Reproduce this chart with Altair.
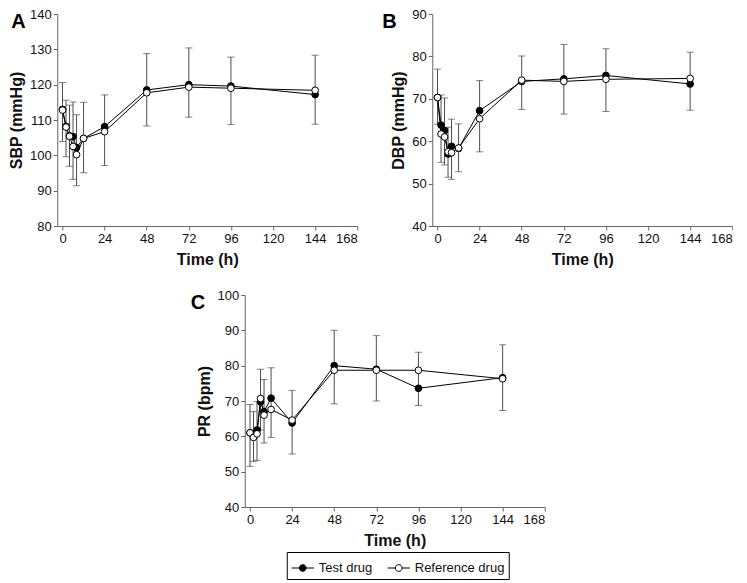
import altair as alt
import pandas as pd

times = [0, 2, 4, 6, 8, 12, 24, 48, 72, 96, 144]
series_names = ["Test drug", "Reference drug"]

# Panel A: SBP (mmHg)
sbp_test = [113.0, 108.2, 105.5, 105.3, 102.2, 104.8, 108.1, 118.5, 120.0, 119.6, 117.2]
sbp_ref = [112.8, 108.0, 105.4, 102.5, 100.2, 104.8, 106.7, 117.7, 119.3, 119.0, 118.4]
sbp_hi = [120.6, 115.6, 114.2, 115.1, 111.5, 115.0, 117.1, 128.8, 130.4, 127.8, 128.3]
sbp_lo = [103.9, 99.6, 96.9, 93.2, 91.4, 95.1, 97.1, 108.3, 110.8, 108.7, 108.8]

# Panel B: DBP (mmHg)
dbp_test = [70.3, 63.8, 62.5, 57.0, 58.8, 58.3, 67.2, 74.1, 74.7, 75.5, 73.5]
dbp_ref = [70.3, 61.7, 61.0, 57.5, 57.3, 58.4, 65.3, 74.4, 74.1, 74.6, 74.8]
dbp_hi = [77.0, 70.9, 70.2, 63.3, 65.2, 64.1, 74.3, 80.1, 82.8, 81.8, 81.0]
dbp_lo = [64.0, 55.0, 54.4, 51.5, 51.0, 52.8, 57.5, 67.5, 66.4, 67.0, 67.3]

# Panel C: PR (bpm)
pr_test = [61.0, 60.5, 61.8, 69.8, 67.0, 70.8, 63.8, 80.0, 79.0, 73.6, 76.6]
pr_ref = [61.0, 59.7, 60.7, 70.7, 66.0, 67.6, 64.6, 78.7, 78.7, 78.7, 76.3]
pr_hi = [69.0, 67.0, 69.8, 79.0, 76.1, 79.4, 73.0, 90.0, 88.5, 83.8, 85.9]
pr_lo = [51.5, 52.9, 53.2, 61.8, 58.1, 59.7, 55.0, 69.2, 70.0, 68.7, 67.3]

x_ticks = [0, 24, 48, 72, 96, 120, 144, 168]

W = 300
H = 212
FONT = "Liberation Sans"

LEG_SYMBOL = "M-1,0L-0.3,0M0.3,0L1,0M0.3,0A0.3,0.3,0,1,1,-0.3,0A0.3,0.3,0,1,1,0.3,0Z"


def panel(letter, ytitle, test, ref, hi, lo, ydom, yticks, letter_dx, show_legend):
    rows = []
    for s, vals in zip(series_names, [test, ref]):
        for t, v in zip(times, vals):
            rows.append({"time": t, "value": v, "series": s})
    df = pd.DataFrame(rows)
    err = pd.DataFrame({"time": times, "hi": hi, "lo": lo})

    xscale = alt.Scale(domain=[-3, 168], nice=False, zero=False)
    xaxis = alt.Axis(values=x_ticks, title="Time (h)", labelOverlap=False)
    yscale = alt.Scale(domain=ydom, nice=False, zero=False)
    yaxis = alt.Axis(values=yticks, title=ytitle, labelOverlap=False)

    def X():
        return alt.X("time:Q", scale=xscale, axis=xaxis)

    def Y(field):
        return alt.Y(field, scale=yscale, axis=yaxis)

    base_err = alt.Chart(err)
    rule = base_err.mark_rule(color="#4d4d4d", strokeWidth=1).encode(
        x=X(), y=Y("lo:Q"), y2="hi:Q"
    )
    cap_hi = base_err.mark_tick(orient="horizontal", size=7, thickness=1, color="#4d4d4d").encode(
        x=X(), y=Y("hi:Q")
    )
    cap_lo = base_err.mark_tick(orient="horizontal", size=7, thickness=1, color="#4d4d4d").encode(
        x=X(), y=Y("lo:Q")
    )

    base = alt.Chart(df)
    lines = base.mark_line(color="black", strokeWidth=1).encode(
        x=X(), y=Y("value:Q"), detail="series:N"
    )
    if show_legend:
        legend = alt.Legend(
            title=None,
            orient="none",
            legendX=42,
            legendY=H + 45,
            direction="horizontal",
            symbolType=LEG_SYMBOL,
            symbolSize=500,
            symbolStrokeColor="black",
            symbolStrokeWidth=1,
            labelFontSize=13,
            labelFont=FONT,
            labelColor="#111111",
            strokeColor="black",
            padding=4,
            columnPadding=12,
            labelOffset=4,
        )
    else:
        legend = None
    points = base.mark_point(
        shape="circle", filled=True, stroke="black", strokeWidth=1, size=45, opacity=1
    ).encode(
        x=X(),
        y=Y("value:Q"),
        fill=alt.Fill(
            "series:N",
            scale=alt.Scale(domain=series_names, range=["black", "white"]),
            legend=legend,
        ),
        order=alt.Order("ord:Q"),
    ).transform_calculate(ord="datum.series == 'Test drug' ? 0 : 1")

    lab = alt.Chart(pd.DataFrame({"t": [letter]})).mark_text(
        align="left", baseline="top", fontSize=20, fontWeight="bold", font=FONT, color="black"
    ).encode(text="t:N", x=alt.value(letter_dx), y=alt.value(-2))

    return alt.layer(rule, cap_hi, cap_lo, lines, points, lab).properties(width=W, height=H)


A = panel("A", "SBP (mmHg)", sbp_test, sbp_ref, sbp_hi, sbp_lo, [80, 140],
          [80, 90, 100, 110, 120, 130, 140], -46, False)
B = panel("B", "DBP (mmHg)", dbp_test, dbp_ref, dbp_hi, dbp_lo, [40, 90],
          [40, 50, 60, 70, 80, 90], -50, False)
C = panel("C", "PR (bpm)", pr_test, pr_ref, pr_hi, pr_lo, [40, 100],
          [40, 50, 60, 70, 80, 90, 100], -54, True)

row1 = alt.hconcat(A, B, spacing=24)
chart = alt.vconcat(row1, C, spacing=22, center=True).resolve_scale(fill="independent").properties(
    padding=0
).configure_view(stroke=None).configure_axis(
    grid=False,
    labelOverlap=False,
    domainColor="#666666",
    tickColor="#666666",
    tickSize=4,
    labelPadding=2,
    labelFont=FONT,
    labelFontSize=13,
    labelColor="#111111",
    titleFont=FONT,
    titleFontSize=16,
    titleFontWeight="bold",
    titleColor="#111111",
    titlePadding=5,
).configure_axisX(titlePadding=6)

chart.save("out.html", embed_options={"renderer": "svg", "actions": False})
